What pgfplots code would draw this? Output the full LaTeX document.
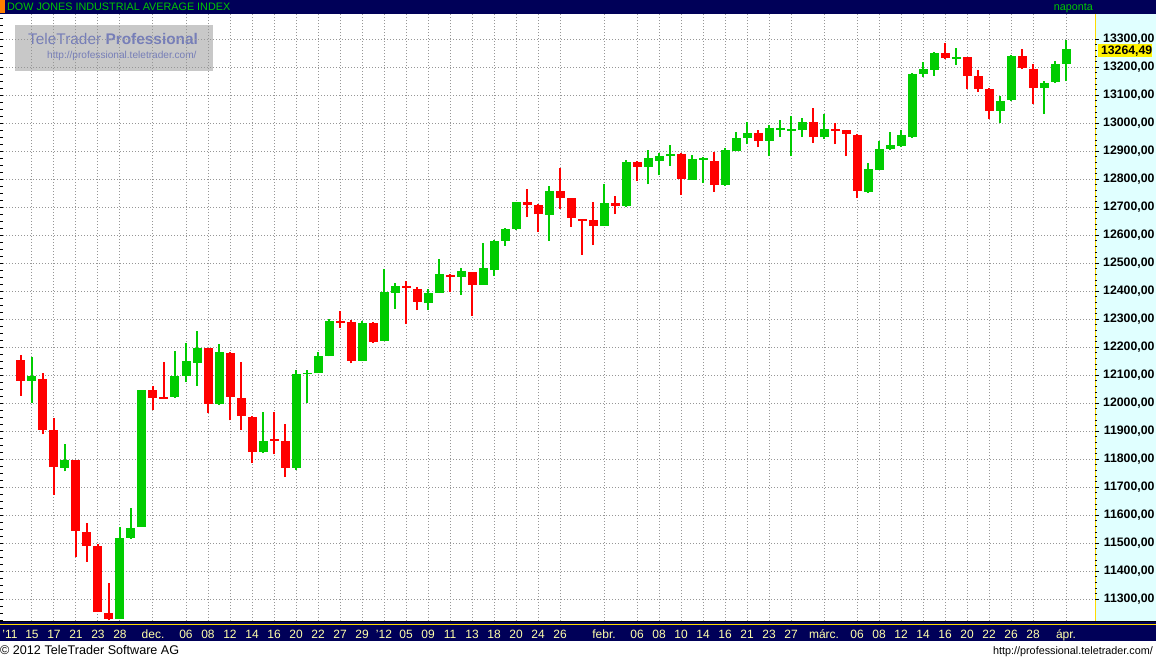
\documentclass[border=0pt]{standalone}
\usepackage{fontspec}
\setmainfont{Liberation Sans}
\usepackage{pgfplots}
\usepackage{pgfplotstable}
\pgfplotsset{compat=1.18}

\definecolor{candleup}{RGB}{0,204,0}
\definecolor{candledn}{RGB}{255,0,0}
\definecolor{barnavy}{RGB}{0,0,88}
\definecolor{titlegreen}{RGB}{0,200,0}
\definecolor{datetext}{RGB}{255,255,170}
\definecolor{panelcyan}{RGB}{224,255,255}
\definecolor{edgeyellow}{RGB}{255,220,0}
\definecolor{gridgray}{RGB}{150,150,150}
\definecolor{wmbox}{RGB}{200,200,200}
\definecolor{wmtext}{RGB}{118,126,184}
\newcommand\px[1]{\fontsize{#1bp}{#1bp}\selectfont}

% daily candles, i = trading day counted from 11 Nov 2011
\pgfplotstableread{
i o h l c
1 12154 12172 12027 12080
3 12086 12109 11889 11906
4 11903 11948 11674 11772
6 11798 11798 11451 11544
7 11541 11571 11434 11491
8 11491 11497 11254 11254
9 11250 11358 11225 11229
13 12047 12062 11975 12019
14 12022 12147 12015 12015
18 12199 12199 11966 11999
20 12180 12183 11939 12023
21 12018 12147 11905 11955
22 11950 11954 11786 11826
24 11872 11968 11818 11866
25 11867 11925 11736 11769
30 12294 12330 12269 12288
31 12290 12298 12143 12152
33 12287 12290 12217 12220
36 12420 12437 12283 12413
37 12408 12415 12333 12362
40 12458 12462 12398 12451
42 12469 12469 12312 12423
47 12719 12765 12665 12708
48 12708 12712 12612 12676
50 12758 12840 12694 12733
51 12733 12733 12630 12662
52 12660 12660 12530 12652
53 12655 12719 12565 12633
55 12715 12740 12676 12705
57 12862 12865 12794 12844
61 12890 12894 12744 12801
64 12865 12898 12755 12780
68 12965 12976 12915 12937
73 13005 13055 12930 12951
75 12980 13001 12926 12973
76 12976 12976 12883 12962
77 12958 12962 12733 12758
85 13251 13287 13231 13235
87 13237 13237 13124 13170
88 13169 13190 13113 13124
89 13123 13126 13015 13045
92 13240 13265 13194 13198
93 13194 13212 13069 13126
}\downdays

\pgfplotstableread{
i o h l c
2 12080 12166 12001 12098
5 11769 11854 11757 11798
10 11229 11560 11229 11519
11 11519 11625 11517 11555
12 11560 12047 11560 12047
15 12023 12187 12019 12098
16 12098 12214 12077 12151
17 12145 12258 12062 12199
19 11999 12212 11994 12183
23 11826 11968 11822 11867
26 11769 12119 11763 12103
27 12103 12119 12001 12108
28 12108 12183 12108 12169
29 12170 12300 12168 12294
32 12152 12294 12150 12287
34 12223 12480 12223 12398
35 12394 12430 12337 12419
38 12358 12408 12333 12394
39 12394 12515 12394 12462
41 12451 12483 12387 12473
43 12423 12573 12423 12483
44 12476 12583 12455 12580
45 12580 12626 12562 12623
46 12623 12719 12619 12719
49 12673 12776 12580 12758
54 12633 12783 12633 12715
56 12705 12869 12701 12862
58 12844 12905 12783 12876
59 12865 12894 12815 12883
60 12883 12923 12848 12890
62 12798 12887 12798 12873
63 12869 12880 12787 12876
65 12780 12912 12776 12905
66 12901 12969 12901 12948
67 12948 13005 12926 12965
69 12937 12994 12883 12983
70 12976 13012 12951 12983
71 12973 13026 12883 12980
72 12976 13019 12951 13005
74 12951 13033 12944 12980
78 12755 12858 12751 12837
79 12833 12937 12833 12908
80 12908 12969 12905 12923
81 12919 12976 12915 12958
82 12951 13180 12948 13176
83 13177 13219 13165 13193
84 13192 13255 13170 13251
86 13230 13269 13210 13237
90 13045 13098 13001 13080
91 13083 13245 13080 13242
94 13126 13151 13033 13144
95 13148 13223 13144 13212
96 13212 13298 13151 13264.49
}\updays

\pgfplotsset{
  candle/.style n args={2}{draw=none, mark=none, forget plot,
    error bars/.cd, y dir=plus, y explicit, error mark=none,
    error bar style={line width=#2, #1}},
}

\begin{document}
\begin{tikzpicture}
% frame, bars and watermark (pixel coordinates, y down = negative)
\begin{scope}[x=1bp,y=1bp]
\fill[white] (0,0) rectangle (1156,-659);
\fill[barnavy] (0,0) rectangle (1156,-14);
\fill[orange] (0,0) rectangle (5,-13);
\node[anchor=base west, inner sep=0, text=titlegreen, font=\px{10.8}] at (7,-11) {DOW JONES INDUSTRIAL AVERAGE INDEX};
\node[anchor=base east, inner sep=0, text=titlegreen, font=\px{10.8}] at (1093,-11) {naponta};
\fill[panelcyan] (1095,-14) rectangle (1156,-621);
\draw[edgeyellow, line width=1.3bp] (1095.7,-14) -- (1095.7,-621);
\fill[barnavy] (0,-622) rectangle (1156,-641);
\draw[black, line width=1bp] (0,-621.5) -- (1156,-621.5);
\draw[edgeyellow, line width=1bp] (0,-624.5) -- (1156,-624.5);
\fill[wmbox] (15,-25) rectangle (213,-70.7);
\node[anchor=base west, inner sep=0, text=wmtext, font=\px{15.4}] at (28,-45) {TeleTrader \textbf{Professional}};
\node[anchor=base west, inner sep=0, text=wmtext, font=\px{10.1}] at (47,-59) {http://professional.teletrader.com/};
\node[anchor=base west, inner sep=0, font=\px{12.6}] at (0,-654) {© 2012 TeleTrader Software AG};
\node[anchor=base east, inner sep=0, font=\px{10.8}] at (1153,-654) {http://professional.teletrader.com/};
\end{scope}

% left border ticks
\begin{axis}[
  at={(3bp,-621bp)}, anchor=south west,
  width=1092bp, height=607bp, scale only axis,
  xmin=-0.636, xmax=98.636, ymin=11222.5, ymax=13390.4,
  axis line style={draw=none},
  xtick=\empty, scaled y ticks=false,
  ytick={11225,11250,...,13375}, yticklabels={},
  ytick pos=left, tick align=outside,
  major tick length=3bp, tick style={black, line width=1bp},
]
\end{axis}

\begin{axis}[
  at={(3bp,-621bp)}, anchor=south west,
  width=1092bp, height=607bp, scale only axis,
  xmin=-0.636, xmax=98.636, ymin=11222.5, ymax=13390.4,
  axis line style={draw=none},
  scaled y ticks=false,
  /pgf/number format/assume math mode=true,
  /pgf/number format/fixed,
  /pgf/number format/fixed zerofill,
  /pgf/number format/precision=2,
  /pgf/number format/use comma,
  /pgf/number format/1000 sep={},
  ytick={11300,11400,...,13300},
  minor y tick num=4,
  ytick pos=right, yticklabel pos=right,
  tick align=outside,
  major tick length=4bp, minor tick length=2bp,
  tick style={black, line width=1bp},
  yticklabel style={anchor=east, xshift=59bp, font=\px{12.3}\bfseries, text=black},
  xtick={2,4,6,8,10,13,16,18,20,22,24,26,28,30,32,34,36,38,40,42,44,46,48,50,54,57,59,61,63,65,67,69,71,74,77,79,81,83,85,87,89,91,93,96},
  xticklabels={15,17,21,23,28,dec.,06,08,12,14,16,20,22,27,29,'12,05,09,11,13,18,20,24,26,febr.,06,08,10,14,16,21,23,27,márc.,06,08,12,14,16,20,22,26,28,ápr.},
  extra x ticks={0}, extra x tick labels={'11},
  extra x tick style={xmajorgrids=false},
  major x tick style={draw=none},
  xticklabel style={anchor=base, yshift=-13bp, font=\px{12}, text=datetext},
  xmajorgrids, ymajorgrids,
  major grid style={gridgray, line width=1bp, dash pattern=on 1bp off 2bp},
]
% wicks
\addplot[candle={candledn}{2bp}] table[x=i, y=l, y error expr=\thisrow{h}-\thisrow{l}] {\downdays};
\addplot[candle={candleup}{2bp}] table[x=i, y=l, y error expr=\thisrow{h}-\thisrow{l}] {\updays};
% bodies
\addplot[candle={candledn}{9bp}] table[x=i, y=c, y error expr=\thisrow{o}-\thisrow{c}] {\downdays};
\addplot[candle={candleup}{9bp}] table[x=i, y=o, y error expr=\thisrow{c}-\thisrow{o}] {\updays};
\end{axis}

\begin{scope}[x=1bp,y=1bp]
\fill[yellow] (1097.5,-44.5) rectangle (1152,-57);
\node[anchor=base east, inner sep=0, font=\px{12.3}\bfseries] at (1152.5,-55) {13264,49};
\pgfresetboundingbox
\path[use as bounding box] (0,0) rectangle (1156,-659);
\end{scope}
\end{tikzpicture}
\end{document}
